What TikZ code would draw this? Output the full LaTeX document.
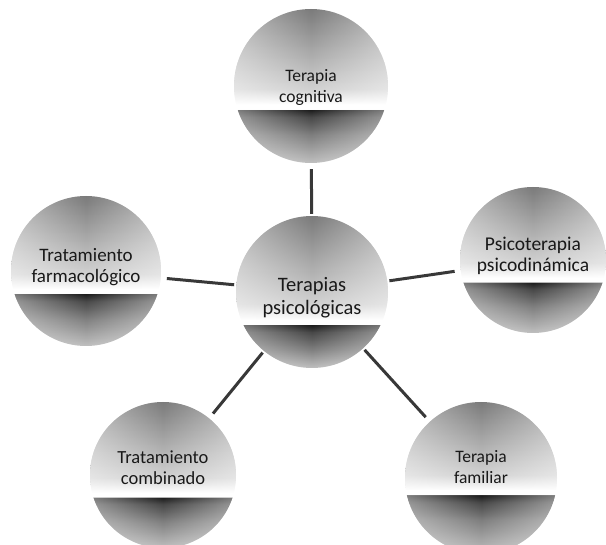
\documentclass[tikz,border=0pt]{standalone}
\usepackage{fontspec}
\usetikzlibrary{fadings}
\setmainfont{Carlito}
\pgfdeclareverticalshading{ballA}{100bp}{color(0bp)=(black!25); color(25bp)=(black!25); color(34bp)=(black!50); color(40bp)=(black!72); color(42.4bp)=(black!90); color(42.5bp)=(white); color(44bp)=(white); color(49bp)=(black!18); color(75bp)=(black!52); color(100bp)=(black!52)}
\pgfdeclareverticalshading{ballB}{100bp}{color(0bp)=(black!25); color(25bp)=(black!25); color(31bp)=(black!50); color(36.8bp)=(black!72); color(39.2bp)=(black!90); color(39.3bp)=(white); color(40.8bp)=(white); color(46bp)=(black!18); color(75bp)=(black!52); color(100bp)=(black!52)}
\pgfdeclareverticalshading{ballD}{100bp}{color(0bp)=(black!25); color(25bp)=(black!25); color(36bp)=(black!50); color(42bp)=(black!72); color(44.4bp)=(black!90); color(44.5bp)=(white); color(46bp)=(white); color(51bp)=(black!18); color(75bp)=(black!52); color(100bp)=(black!52)}
\tikzfading[name=sidefade, left color=transparent!55, right color=transparent!55, middle color=transparent!100]
\begin{document}
\begin{tikzpicture}[x=1pt,y=-1pt,
  ball/.style={circle, shade, inner sep=0pt, minimum size=#1},
  halo/.style={fill=white, path fading=sidefade},
  txt/.style={align=center, inner sep=0pt, text=black!90, font=\fontsize{#1}{21}\selectfont},
  bigtxt/.style={align=center, inner sep=0pt, text=black!90, font=\fontsize{20.5}{23}\selectfont},
  link/.style={line width=3pt, draw=black!78, shorten <=2pt, shorten >=6pt}]
\useasboundingbox (0,0) rectangle (606,545);
\node[ball=154pt, shading=ballA] (T) at (311,86) {};
\node[ball=152pt, shading=ballB] (C) at (312,292) {};
\node[ball=150pt, shading=ballA] (L) at (86,271) {};
\node[ball=146pt, shading=ballA] (R) at (533,260) {};
\node[ball=146pt, shading=ballA] (BL) at (163,475) {};
\node[ball=152pt, shading=ballD] (BR) at (481,478) {};
\fill[halo] (T.center) circle (77pt);
\fill[halo] (C.center) circle (76pt);
\fill[halo] (L.center) circle (75pt);
\fill[halo] (R.center) circle (73pt);
\fill[halo] (BL.center) circle (73pt);
\fill[halo] (BR.center) circle (76pt);
\node[txt=17.5] (Tt) at ([yshift=-1.5pt]T.center) {Terapia\\cognitiva};
\node[bigtxt] (Ct) at ([yshift=-6pt]C.center) {Terapias\\psicológicas};
\node[txt=19] (Lt) at ([yshift=4pt]L.center) {Tratamiento\\farmacológico};
\node[txt=19.5] (Rt) at ([yshift=4.5pt]R.center) {Psicoterapia\\psicodinámica};
\node[txt=18.5] (BLt) at ([yshift=7.5pt]BL.center) {Tratamiento\\combinado};
\node[txt=17.5] (BRt) at ([yshift=11pt]BR.center) {Terapia\\familiar};
\draw[link] (C) -- (T);
\draw[link] (C) -- (L);
\draw[link] (C) -- (R);
\draw[link] (C) -- (BL);
\draw[link] (C) -- (BR);
\end{tikzpicture}
\end{document}
